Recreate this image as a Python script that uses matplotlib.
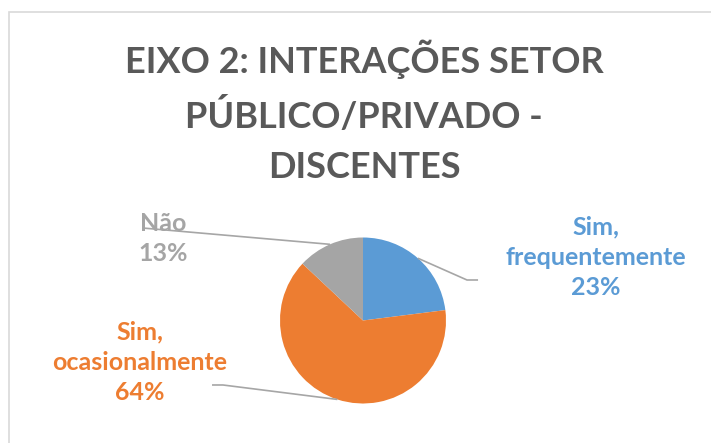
import numpy as np
import matplotlib.pyplot as plt
from matplotlib.patches import Rectangle

# Data
categories = ["Sim,\nfrequentemente", "Sim,\nocasionalmente", "Não"]
shares = [23, 64, 13]
colors = ["#5B9BD5", "#ED7D31", "#A5A5A5"]
title = "EIXO 2: INTERAÇÕES SETOR\nPÚBLICO/PRIVADO -\nDISCENTES"

plt.rcParams["font.family"] = ["Lato", "DejaVu Sans"]

W, H = 711, 443
R = 83.0          # pie radius in pixels
cx, cy = 363, 320.5

fig = plt.figure(figsize=(W / 100, H / 100), dpi=100)
ax = fig.add_axes([0, 0, 1, 1])

wedges, _ = ax.pie(
    shares,
    colors=colors,
    startangle=90,
    counterclock=False,
    radius=1,
    wedgeprops=dict(linewidth=0),
)

ax.set_aspect("auto")
ax.set_xlim(-cx / R, (W - cx) / R)
ax.set_ylim(-(H - cy) / R, cy / R)
ax.axis("off")

# label layout: (text centre, leader elbow, leader end) in pie units
label_pos = [(2.81, 0.765), (-2.69, -0.50), (-2.41, 0.99)]
leaders = [
    [(1.253, 0.488), (1.386, 0.488)],
    [(-1.687, -0.777), (-1.819, -0.777)],
    [(-2.65, 1.114)],
]

cum = np.cumsum([0] + shares)
total = sum(shares)
for i, (name, val) in enumerate(zip(categories, shares)):
    mid = (cum[i] + val / 2) / total * 360
    sx, sy = np.sin(np.radians(mid)), np.cos(np.radians(mid))
    pts = [(sx, sy)] + leaders[i]
    xs, ys = zip(*pts)
    ax.plot(xs, ys, color="#A6A6A6", lw=1.2, solid_capstyle="butt")
    ax.text(
        label_pos[i][0], label_pos[i][1],
        f"{name}\n{val}%",
        color=colors[i], fontsize=18, fontweight="bold",
        ha="center", va="center", linespacing=1.39,
    )

# title
fig.text(0.512, 1 - 112 / H, title, ha="center", va="center",
         fontsize=26, fontweight="bold", color="#595959", linespacing=1.63)

# chart border
fig.patches.append(Rectangle((9 / W, -0.1), 1.2, (H - 12) / H + 0.1,
                             transform=fig.transFigure, fill=False,
                             edgecolor="#D9D9D9", lw=1.2))

fig.savefig("out.png", dpi=100)
